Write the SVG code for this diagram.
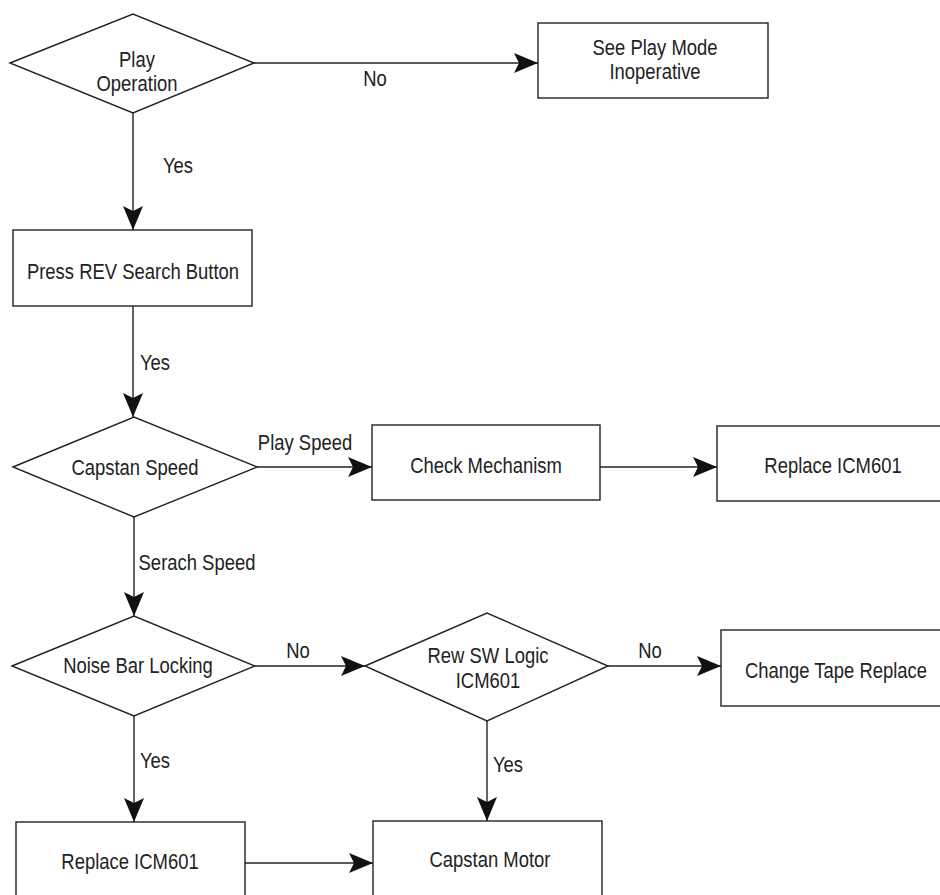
<svg xmlns="http://www.w3.org/2000/svg" width="940" height="895" viewBox="0 0 940 895">
<style>
.shape{fill:#fff;stroke:#222;stroke-width:1.4}
.edge{fill:none;stroke:#222;stroke-width:1.4;marker-end:url(#arr)}
text{font-family:"Liberation Sans",Arial,sans-serif;font-size:22.5px;fill:#222;text-anchor:middle}
</style>
<defs>
<marker id="arr" markerUnits="userSpaceOnUse" markerWidth="30" markerHeight="24" refX="24" refY="10" orient="auto">
<path d="M24,10 L0,0 L5,10 L0,20 Z" fill="#111"/>
</marker>
</defs>
<rect width="940" height="895" fill="#fff"/>
<g id="connectors">
<line class="edge" x1="254" y1="63" x2="538" y2="63"/>
<line class="edge" x1="133" y1="113" x2="133" y2="230"/>
<line class="edge" x1="133" y1="306" x2="133" y2="417"/>
<line class="edge" x1="257" y1="467" x2="372" y2="467"/>
<line class="edge" x1="600" y1="467" x2="717" y2="467"/>
<line class="edge" x1="134" y1="517" x2="134" y2="616"/>
<line class="edge" x1="255" y1="666" x2="365" y2="666"/>
<line class="edge" x1="608" y1="666" x2="721" y2="666"/>
<line class="edge" x1="134" y1="716" x2="134" y2="822"/>
<line class="edge" x1="487" y1="721" x2="487" y2="821"/>
<line class="edge" x1="245" y1="863" x2="373" y2="863"/>
<text transform="translate(375,86) scale(0.82,1)">No</text>
<text transform="translate(178,173) scale(0.82,1)">Yes</text>
<text transform="translate(155,370) scale(0.82,1)">Yes</text>
<text transform="translate(305,450) scale(0.82,1)">Play Speed</text>
<text transform="translate(197,570) scale(0.82,1)">Serach Speed</text>
<text transform="translate(298,658) scale(0.82,1)">No</text>
<text transform="translate(650,658) scale(0.82,1)">No</text>
<text transform="translate(155,768) scale(0.82,1)">Yes</text>
<text transform="translate(508,772) scale(0.82,1)">Yes</text>
</g>
<g id="n1">
<polygon class="shape" points="10,63 133,14 254,63 133,113"/>
<text transform="translate(137,67) scale(0.82,1)">Play</text>
<text transform="translate(137,91) scale(0.82,1)">Operation</text>
</g>
<g id="n2">
<rect class="shape" x="538" y="23" width="230" height="75"/>
<text transform="translate(655,55) scale(0.82,1)">See Play Mode</text>
<text transform="translate(655,79) scale(0.82,1)">Inoperative</text>
</g>
<g id="n3">
<rect class="shape" x="13" y="230" width="239" height="76"/>
<text transform="translate(133,279) scale(0.82,1)">Press REV Search Button</text>
</g>
<g id="n4">
<polygon class="shape" points="13,467 134,417 257,467 134,517"/>
<text transform="translate(135,475) scale(0.82,1)">Capstan Speed</text>
</g>
<g id="n5">
<rect class="shape" x="372" y="425" width="228" height="75"/>
<text transform="translate(486,473) scale(0.82,1)">Check Mechanism</text>
</g>
<g id="n6">
<rect class="shape" x="717" y="426" width="232" height="75"/>
<text transform="translate(833,473) scale(0.82,1)">Replace ICM601</text>
</g>
<g id="n7">
<polygon class="shape" points="12,666 134,616 255,666 134,716"/>
<text transform="translate(138,673) scale(0.82,1)">Noise Bar Locking</text>
</g>
<g id="n8">
<polygon class="shape" points="365,666 487,613 608,666 487,721"/>
<text transform="translate(488,663) scale(0.82,1)">Rew SW Logic</text>
<text transform="translate(488,688) scale(0.82,1)">ICM601</text>
</g>
<g id="n9">
<rect class="shape" x="721" y="630" width="230" height="76"/>
<text transform="translate(836,678) scale(0.82,1)">Change Tape Replace</text>
</g>
<g id="n10">
<rect class="shape" x="16" y="822" width="229" height="90"/>
<text transform="translate(130,869) scale(0.82,1)">Replace ICM601</text>
</g>
<g id="n11">
<rect class="shape" x="373" y="821" width="229" height="90"/>
<text transform="translate(490,867) scale(0.82,1)">Capstan Motor</text>
</g>
</svg>
